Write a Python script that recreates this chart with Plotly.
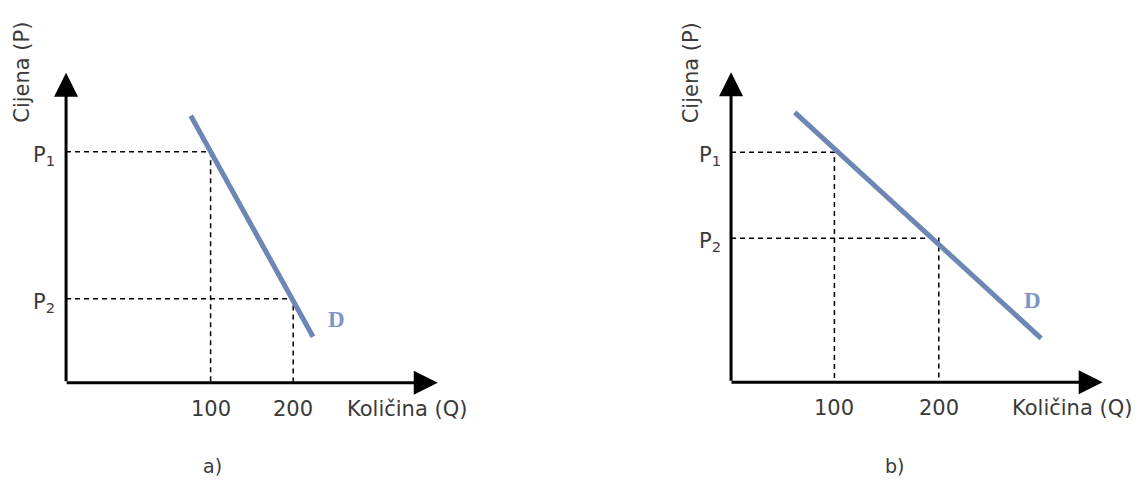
import plotly.graph_objects as go

# ---- data ----
q_ticks = [100, 200]
q_tick_labels = ["100", "200"]
price_labels = ["P<sub>1</sub>", "P<sub>2</sub>"]

# panel a (inelastic demand)
a_prices = [2.31, 0.84]          # P1, P2
a_demand_q = [76, 224]
a_demand_p = [2.67, 0.46]
a_axis_q = -75                   # where the price axis stands
a_q_end = 375
a_p_end = 3.10

# panel b (elastic demand)
b_prices = [2.30, 1.44]
b_demand_q = [62, 298]
b_demand_p = [2.70, 0.44]
b_axis_q = 1
b_q_end = 357
b_p_end = 3.10

FONT = "DejaVu Sans"
TXT = "#3a3a3a"
DCOL = "#6d86b4"
FS = 21

fig = go.Figure()

panels = [
    dict(xa="x", ya="y", prices=a_prices, dq=a_demand_q, dp=a_demand_p,
         ax0=a_axis_q, qend=a_q_end, pend=a_p_end, sub="a)",
         xr=[-145.3, 541.8], yr=[-0.973, 3.747], dom=[0, 0.5],
         plab_dx=-9, ytit_dx=-44, ytit_dy=0, d_dx=23, d_dy=17, sub_x=(212 - 8) / 1135),
    dict(xa="x2", ya="y2", prices=b_prices, dq=b_demand_q, dp=b_demand_p,
         ax0=b_axis_q, qend=b_q_end, pend=b_p_end, sub="b)",
         xr=[-148.0, 395.6], yr=[-0.977, 3.743], dom=[0.5, 1],
         plab_dx=-8, ytit_dx=-40, ytit_dy=-1, d_dx=-9, d_dy=38, sub_x=(894 - 8) / 1135),
]

annotations = []
for pn in panels:
    xa, ya = pn["xa"], pn["ya"]
    # dashed guide lines
    for q, p in zip(q_ticks, pn["prices"]):
        fig.add_trace(go.Scatter(x=[pn["ax0"], q, q], y=[p, p, 0], mode="lines",
                                 line=dict(color="black", width=1.5, dash="5px,4px"),
                                 xaxis=xa, yaxis=ya, showlegend=False, hoverinfo="skip"))
    # demand curve
    fig.add_trace(go.Scatter(x=pn["dq"], y=pn["dp"], mode="lines",
                             line=dict(color=DCOL, width=5),
                             xaxis=xa, yaxis=ya, showlegend=False, hoverinfo="skip"))
    # axes with arrows
    annotations.append(dict(x=pn["ax0"], y=pn["pend"], ax=pn["ax0"], ay=0, xref=xa, yref=ya,
                            axref=xa, ayref=ya, showarrow=True, arrowhead=2, arrowsize=1.6,
                            arrowwidth=3, arrowcolor="black", text=""))
    annotations.append(dict(x=pn["qend"], y=0, ax=pn["ax0"] - 1, ay=0, xref=xa, yref=ya,
                            axref=xa, ayref=ya, showarrow=True, arrowhead=2, arrowsize=1.6,
                            arrowwidth=3, arrowcolor="black", text=""))
    # price labels
    for lab, p in zip(price_labels, pn["prices"]):
        annotations.append(dict(x=pn["ax0"], y=p, xref=xa, yref=ya, text=lab, showarrow=False,
                                xanchor="right", yanchor="middle", xshift=pn["plab_dx"], yshift=-4,
                                font=dict(family=FONT, size=FS, color=TXT)))
    # quantity tick labels
    for lab, q in zip(q_tick_labels, q_ticks):
        annotations.append(dict(x=q, y=0, xref=xa, yref=ya, text=lab, showarrow=False,
                                xanchor="center", yanchor="middle", yshift=-26,
                                font=dict(family=FONT, size=FS, color=TXT)))
    # axis titles
    annotations.append(dict(x=pn["qend"], y=0, xref=xa, yref=ya, text="Količina (Q)",
                            showarrow=False, xanchor="left", yanchor="middle", xshift=-93, yshift=-26,
                            font=dict(family=FONT, size=FS, color=TXT)))
    annotations.append(dict(x=pn["ax0"], y=pn["pend"], xref=xa, yref=ya, text="Cijena (P)",
                            showarrow=False, textangle=-90, xanchor="center", yanchor="middle",
                            xshift=pn["ytit_dx"], yshift=pn["ytit_dy"],
                            font=dict(family=FONT, size=FS, color=TXT)))
    # D label
    annotations.append(dict(x=pn["dq"][1], y=pn["dp"][1], xref=xa, yref=ya, text="<b>D</b>",
                            showarrow=False, xanchor="center", yanchor="middle",
                            xshift=pn["d_dx"], yshift=pn["d_dy"],
                            font=dict(family="Liberation Serif", size=23, color="#7b95c6")))
    # sub caption
    annotations.append(dict(x=pn["sub_x"], y=1 - (466 - 8) / 472, xref="paper", yref="paper",
                            text=pn["sub"], showarrow=False, xanchor="center", yanchor="middle",
                            font=dict(family=FONT, size=19, color=TXT)))

axis_common = dict(visible=False, showgrid=False, zeroline=False, fixedrange=True)
fig.update_layout(
    width=1135, height=472,
    margin=dict(l=0, r=0, t=0, b=0),
    paper_bgcolor="white", plot_bgcolor="white",
    xaxis=dict(domain=panels[0]["dom"], range=panels[0]["xr"], anchor="y", **axis_common),
    yaxis=dict(domain=[0, 1], range=panels[0]["yr"], anchor="x", **axis_common),
    xaxis2=dict(domain=panels[1]["dom"], range=panels[1]["xr"], anchor="y2", **axis_common),
    yaxis2=dict(domain=[0, 1], range=panels[1]["yr"], anchor="x2", **axis_common),
    annotations=annotations,
    showlegend=False,
)

fig.write_html("out.html")
